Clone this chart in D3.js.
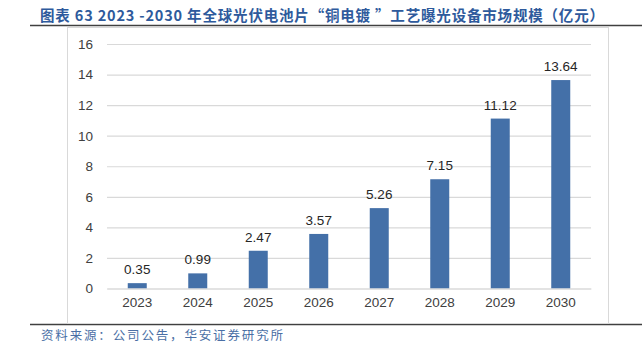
<!DOCTYPE html>
<html><head><meta charset="utf-8">
<script src="https://cdn.jsdelivr.net/npm/d3@7"></script>
<style>body{margin:0;background:#fff}svg{display:block}</style>
</head><body>
<svg id="c" width="642" height="344"></svg>
<script>
const categories = ["2023","2024","2025","2026","2027","2028","2029","2030"];
const values = [0.35, 0.99, 2.47, 3.57, 5.26, 7.15, 11.12, 13.64];
const yTicks = [0,2,4,6,8,10,12,14,16];
const titleText = "图表 63 2023 -2030 年全球光伏电池片“铜电镀 ”工艺曝光设备市场规模（亿元）";
const sourceText = "资料来源：公司公告，华安证券研究所";

const svg = d3.select("#c");
const W = 642, H = 344;
svg.append("rect").attr("width",W).attr("height",H).attr("fill","#fff");

// header / footer rules
svg.append("line").attr("x1",30).attr("x2",642).attr("y1",25.5).attr("y2",25.5).attr("stroke","#404040").attr("stroke-width",1.3);
svg.append("line").attr("x1",30).attr("x2",642).attr("y1",324.5).attr("y2",324.5).attr("stroke","#404040").attr("stroke-width",1.3);
// chart frame
svg.append("rect").attr("x",67.5).attr("y",27.5).attr("width",541).attr("height",296).attr("fill","#fff").attr("stroke","#d9d9d9").attr("stroke-width",1);

svg.append("text").attr("x",40).attr("y",21).attr("fill","#2e5a9c")
  .attr("font-family","'Noto Sans CJK SC', 'Liberation Sans', sans-serif").attr("font-weight","bold").attr("font-size",14.5)
  .attr("textLength",564).attr("lengthAdjust","spacing")
  .text(titleText);
svg.append("text").attr("x",41).attr("y",340).attr("fill","#4a6fa5")
  .attr("font-family","'Noto Sans CJK SC', sans-serif").attr("font-size",12.5)
  .attr("textLength",242).attr("lengthAdjust","spacing")
  .text(sourceText);

const x = d3.scaleBand().domain(categories).range([107,591]).paddingInner(0.686).paddingOuter(0.343);
const y = d3.scaleLinear().domain([0,16]).range([288.5,44]);

const yAxis = d3.axisLeft(y).tickValues(yTicks).tickSize(-(591-107)).tickPadding(14);
const gy = svg.append("g").attr("transform","translate(107,0)").call(yAxis);
gy.select(".domain").remove();
gy.selectAll(".tick line").attr("stroke","#d9d9d9").attr("stroke-width",1.2);
gy.selectAll(".tick text").attr("fill","#404040").attr("font-size",13.5).attr("font-family","'Liberation Sans', Arial, sans-serif");

svg.append("g").selectAll("rect").data(values).join("rect")
  .attr("x",(d,i)=>x(categories[i])).attr("width",x.bandwidth())
  .attr("y",d=>y(d)).attr("height",d=>y(0)-y(d)).attr("fill","#4470a8");

const gx = svg.append("g").attr("transform","translate(0,288.5)").call(d3.axisBottom(x).tickSize(0).tickPadding(9));
gx.select(".domain").attr("stroke","#d9d9d9").attr("stroke-width",1.2);
gx.selectAll(".tick text").attr("fill","#404040").attr("font-size",13.5).attr("font-family","'Liberation Sans', Arial, sans-serif");

svg.append("g").selectAll("text").data(values).join("text")
  .attr("x",(d,i)=>x(categories[i])+x.bandwidth()/2).attr("y",d=>y(d)-9)
  .attr("text-anchor","middle").attr("fill","#262626").attr("font-size",13.5)
  .attr("font-family","'Liberation Sans', Arial, sans-serif")
  .text(d=>d.toFixed(2));
</script>
</body></html>
